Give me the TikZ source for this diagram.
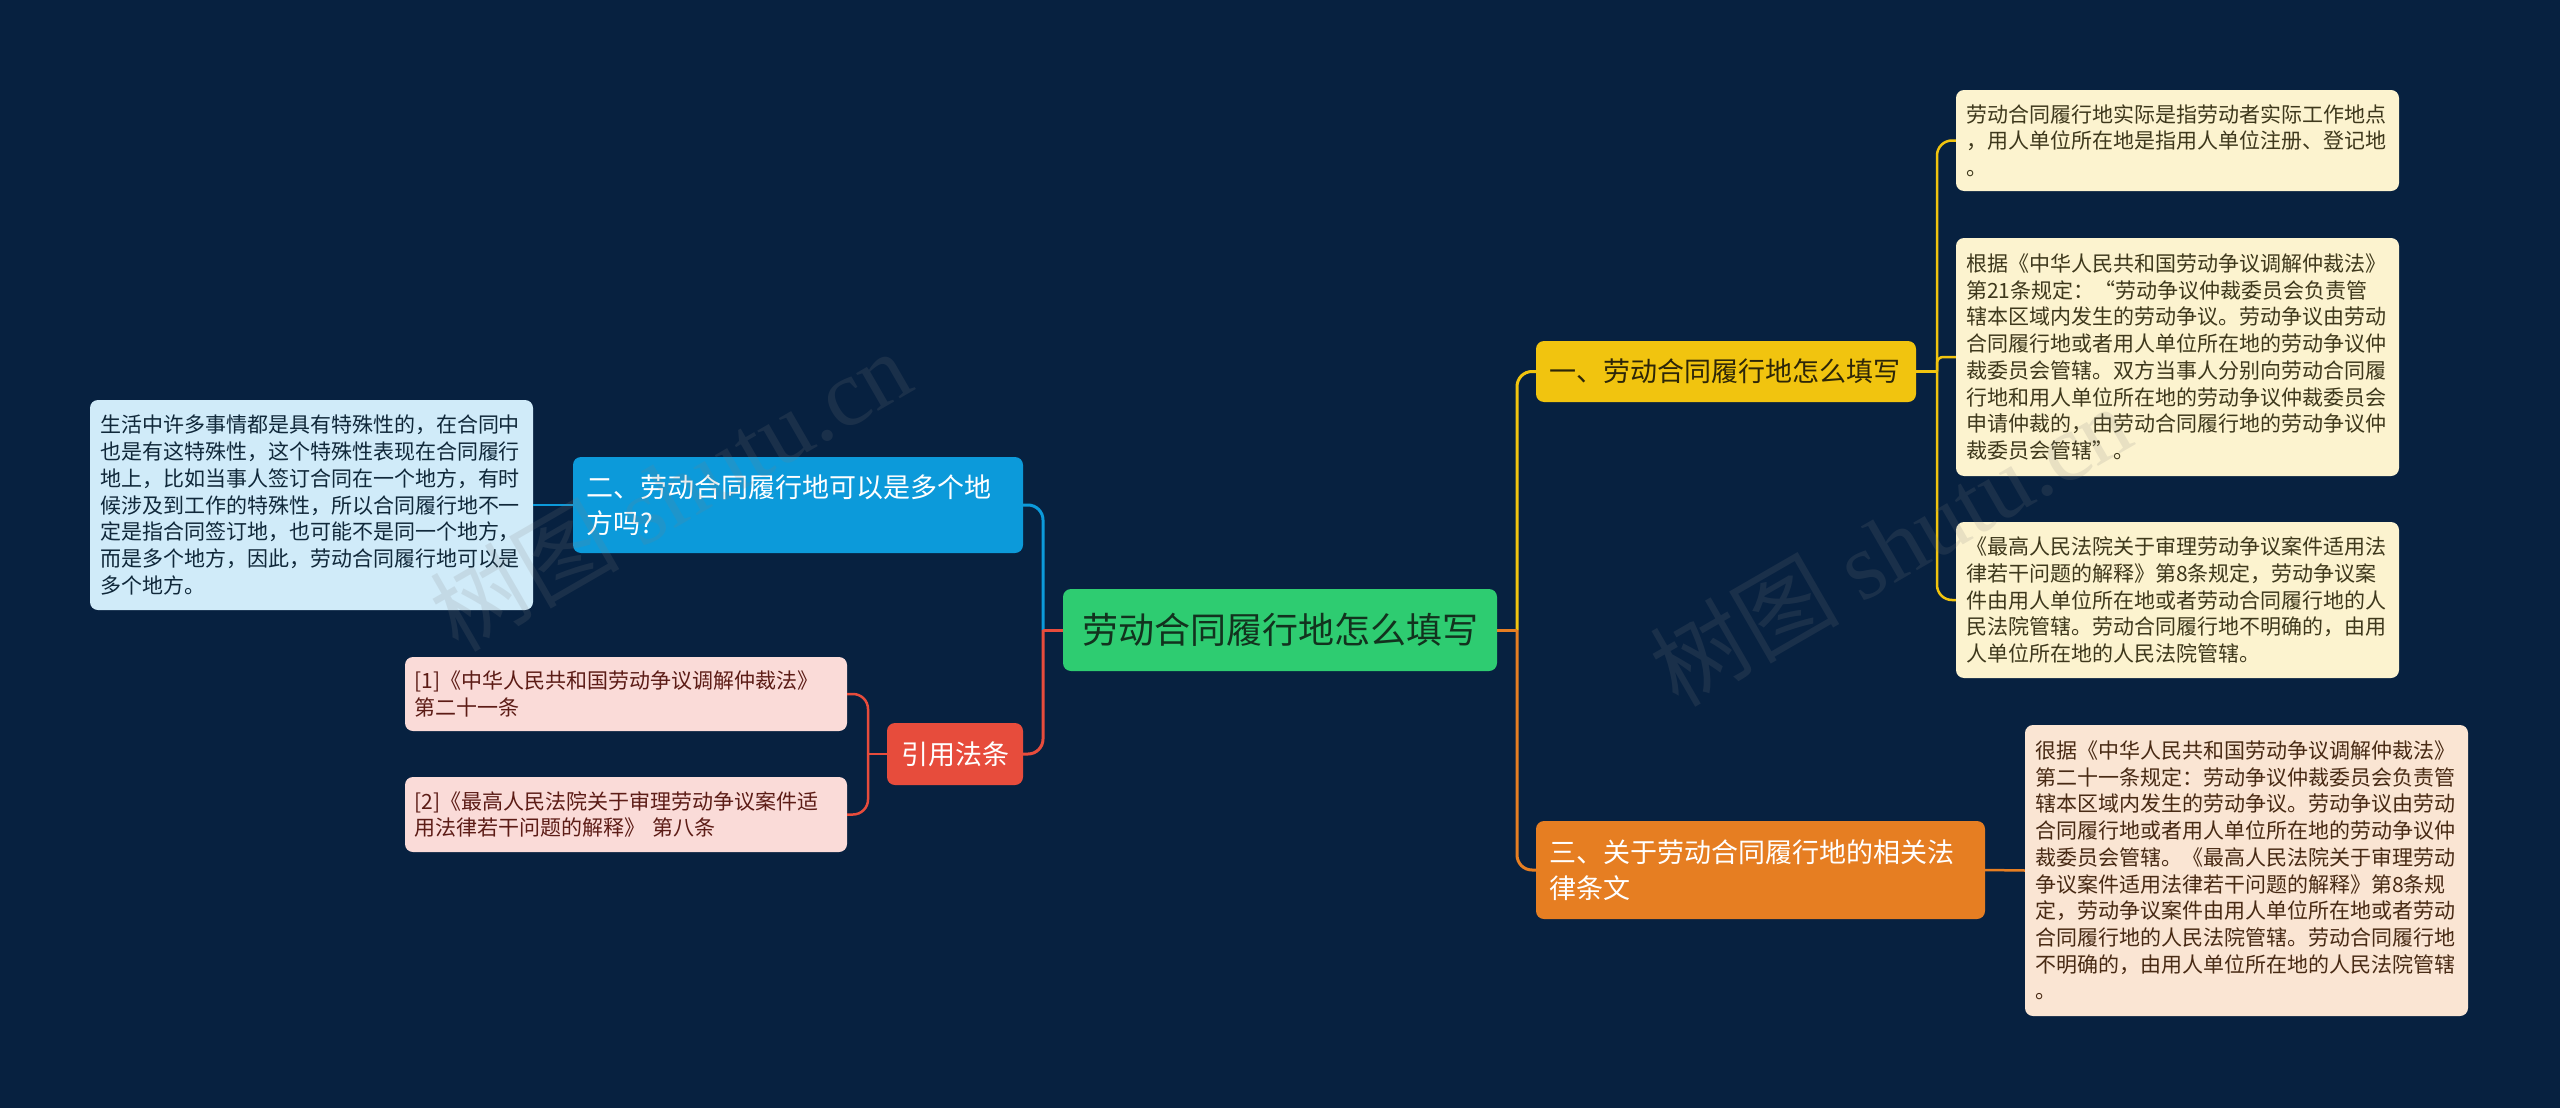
\documentclass[tikz,border=0pt]{standalone}
\usepackage{fontspec}
\newfontfamily\cjk{Noto Sans CJK SC}
\newfontfamily\wmserif{Liberation Serif}
\definecolor{bg}{RGB}{7,33,64}
\definecolor{cgreen}{RGB}{46,204,113}
\definecolor{cyellow}{RGB}{241,196,15}
\definecolor{corange}{RGB}{230,126,34}
\definecolor{cblue}{RGB}{12,154,218}
\definecolor{cred}{RGB}{231,76,60}
\definecolor{lyellow}{RGB}{252,243,207}
\definecolor{lorange}{RGB}{250,229,211}
\definecolor{lblue}{RGB}{208,235,249}
\definecolor{lred}{RGB}{250,219,216}
\definecolor{tgreen}{RGB}{18,50,30}
\definecolor{tyel}{RGB}{45,38,8}
\definecolor{tly}{RGB}{62,56,28}
\definecolor{tlo}{RGB}{72,42,20}
\definecolor{tlb}{RGB}{16,40,58}
\definecolor{tlr}{RGB}{92,28,22}
\tikzset{
  leaf/.style={rounded corners=8pt, inner sep=0pt, align=left,
    font=\cjk\fontsize{21}{26.7}\selectfont, minimum width=443pt, text width=423pt},
  branch/.style={rounded corners=8pt, inner sep=0pt, align=left,
    font=\cjk\fontsize{27}{36}\selectfont},
  link/.style={line width=3pt},
  sublink/.style={line width=2.5pt},
  wmark/.style={rotate=30, text=gray, opacity=0.16, font=\cjk\fontsize{95}{95}\selectfont}
}
\begin{document}
\begin{tikzpicture}[x=1pt, y=-1pt]
\path[fill=bg] (0,0) rectangle (2560,1108);
\useasboundingbox (0,0) rectangle (2560,1108);

% main nodes
\node[rounded corners=8pt, inner sep=0pt, fill=cgreen, text=tgreen, minimum width=434pt, minimum height=82pt,
  font=\cjk\fontsize{36}{40}\selectfont] (root) at (1280,630) {劳动合同履行地怎么填写};
\node[branch, fill=cyellow, text=tyel, minimum width=380pt, minimum height=61pt, text width=354pt] (n1) at (1726,371.5) {一、劳动合同履行地怎么填写};
\node[branch, fill=corange, text=white, minimum width=449pt, minimum height=98pt, text width=423pt] (n3) at (1760.5,870) {三、关于劳动合同履行地的相关法\\律条文};
\node[branch, fill=cblue, text=white, minimum width=450pt, minimum height=96pt, text width=424pt] (n2) at (798,505) {二、劳动合同履行地可以是多个地\\方吗?};
\node[branch, align=center, fill=cred, text=white, minimum width=136pt, minimum height=62pt] (cite) at (955,754) {引用法条};

% leaves
\node[leaf, fill=lyellow, text=tly, minimum height=101pt] (y1) at (2177.5,140.5) {劳动合同履行地实际是指劳动者实际工作地点\\，用人单位所在地是指用人单位注册、登记地\\。};
\node[leaf, fill=lyellow, text=tly, minimum height=238pt] (y2) at (2177.5,357) {根据《中华人民共和国劳动争议调解仲裁法》\\第21条规定：“劳动争议仲裁委员会负责管\\辖本区域内发生的劳动争议。劳动争议由劳动\\合同履行地或者用人单位所在地的劳动争议仲\\裁委员会管辖。双方当事人分别向劳动合同履\\行地和用人单位所在地的劳动争议仲裁委员会\\申请仲裁的，由劳动合同履行地的劳动争议仲\\裁委员会管辖”。};
\node[leaf, fill=lyellow, text=tly, minimum height=156pt] (y3) at (2177.5,600) {《最高人民法院关于审理劳动争议案件适用法\\律若干问题的解释》第8条规定，劳动争议案\\件由用人单位所在地或者劳动合同履行地的人\\民法院管辖。劳动合同履行地不明确的，由用\\人单位所在地的人民法院管辖。};
\node[leaf, fill=lorange, text=tlo, minimum height=291pt] (o1) at (2246.5,870.5) {很据《中华人民共和国劳动争议调解仲裁法》\\第二十一条规定：劳动争议仲裁委员会负责管\\辖本区域内发生的劳动争议。劳动争议由劳动\\合同履行地或者用人单位所在地的劳动争议仲\\裁委员会管辖。《最高人民法院关于审理劳动\\争议案件适用法律若干问题的解释》第8条规\\定，劳动争议案件由用人单位所在地或者劳动\\合同履行地的人民法院管辖。劳动合同履行地\\不明确的，由用人单位所在地的人民法院管辖\\。};
\node[leaf, fill=lblue, text=tlb, minimum height=210pt] (b1) at (311.5,505) {生活中许多事情都是具有特殊性的，在合同中\\也是有这特殊性，这个特殊性表现在合同履行\\地上，比如当事人签订合同在一个地方，有时\\候涉及到工作的特殊性，所以合同履行地不一\\定是指合同签订地，也可能不是同一个地方，\\而是多个地方，因此，劳动合同履行地可以是\\多个地方。};
\node[leaf, fill=lred, text=tlr, minimum width=442pt, minimum height=74pt] (r1) at (626,694) {[1]《中华人民共和国劳动争议调解仲裁法》\\第二十一条};
\node[leaf, fill=lred, text=tlr, minimum width=442pt, minimum height=75pt] (r2) at (626,814.5) {[2]《最高人民法院关于审理劳动争议案件适\\用法律若干问题的解释》 第八条};

% junction points
\coordinate (jr) at (1517,630);
\coordinate (jl) at (1043,630);
\coordinate (jy) at (1937,371.5);
\coordinate (jc) at (868,754);

% connectors right
\draw[link, cyellow, rounded corners=15pt] (jr) |- (n1.west);
\draw[link, corange, rounded corners=15pt] (jr) |- (n3.west);
\draw[link, corange] (root.east) -- (jr);
\draw[sublink, cyellow] (n1.east) -- (jy);
\draw[sublink, cyellow, rounded corners=15pt] (jy) |- (y1.west);
\draw[sublink, cyellow, rounded corners=6pt] (jy) |- (y2.west);
\draw[sublink, cyellow, rounded corners=15pt] (jy) |- (y3.west);
\draw[sublink, corange] (n3.east) -- (o1.west);
% connectors left
\draw[link, cblue, rounded corners=15pt] (jl) |- (n2.east);
\draw[link, cred, rounded corners=15pt] (jl) |- (cite.east);
\draw[link, cred] (root.west) -- (jl);
\draw[sublink, cblue] (n2.west) -- (b1.east);
\draw[sublink, cred] (cite.west) -- (jc);
\draw[sublink, cred, rounded corners=15pt] (jc) |- (r1.east);
\draw[sublink, cred, rounded corners=15pt] (jc) |- (r2.east);

% watermarks
\node[wmark] (wm1) at (670,490) {树图 {\wmserif shutu.cn}};
\node[wmark] (wm2) at (1890,545) {树图 {\wmserif shutu.cn}};
\end{tikzpicture}
\end{document}
